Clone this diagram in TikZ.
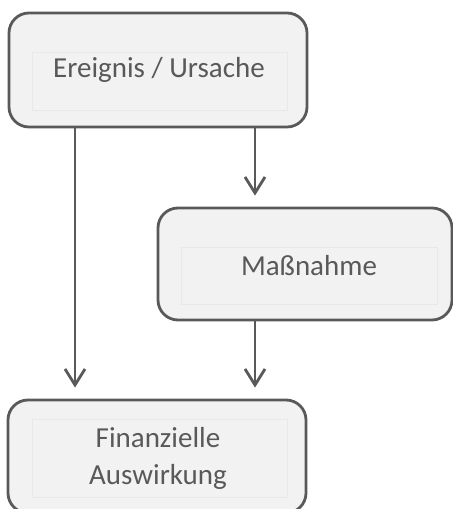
\documentclass[tikz,border=0pt]{standalone}
\usepackage{fontspec}
\setmainfont{Carlito}
\usetikzlibrary{arrows.meta,calc}
\definecolor{lineg}{HTML}{595959}
\definecolor{boxfill}{HTML}{F2F2F2}
\definecolor{innerg}{HTML}{E8E8E8}
\tikzset{
  box/.style={draw=lineg, line width=2.8bp, fill=boxfill, rounded corners=20bp, inner sep=0pt},
  inbox/.style={draw=innerg, line width=0.7bp},
  lbl/.style={text=lineg, font=\fontsize{29bp}{37bp}\selectfont, align=center},
  arr/.style={draw=lineg, line width=2.8bp, -{Straight Barb[length=16bp,width=20bp]}}
}
\begin{document}
\begin{tikzpicture}[x=1bp,y=1bp]
\useasboundingbox (0,0) rectangle (453,509);
% boxes
\node[box, minimum width=298bp, minimum height=114bp] (e) at (158,439) {};
\node[box, minimum width=294bp, minimum height=112bp] (m) at (305,245) {};
\node[box, minimum width=298bp, minimum height=113bp] (f) at (157,52.5) {};
% inner faint rectangles
\draw[inbox] (32,457) rectangle (287,399);
\draw[inbox] (181,262) rectangle (437,205);
\draw[inbox] (32,90) rectangle (287,12);
% labels
\node[lbl] (te) at (159,439) {Ereignis / Ursache};
\node[lbl] (tm) at (309,243) {Maßnahme};
\node[lbl] (tf) at (158,51) {Finanzielle\\Auswirkung};
% connectors
\coordinate (lx) at (75,0);
\coordinate (rx) at (255,0);
\draw[arr, shorten >=11bp] (e.south -| lx) -- (f.north -| lx);
\draw[arr, shorten >=11bp] (e.south -| rx) -- (m.north -| rx);
\draw[arr, shorten >=11bp] (m.south -| rx) -- (f.north -| rx);
\end{tikzpicture}
\end{document}
